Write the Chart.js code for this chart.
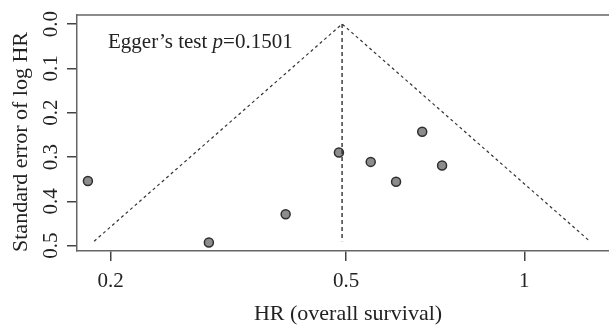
<!DOCTYPE html>
<html>
<head>
<meta charset="utf-8">
<script src="https://cdn.jsdelivr.net/npm/chart.js@4.4.1/dist/chart.umd.min.js"></script>
<style>
	html, body { margin: 0; padding: 0; background: #fff; }
	#wrap { width: 609px; height: 325px; position: relative; }
</style>
</head>
<body>
<div id="wrap"><canvas id="chart"></canvas></div>
<script>
// study estimates
const studyHR = [0.183, 0.293, 0.395, 0.486, 0.550, 0.607, 0.672, 0.726];
const studySE = [0.354, 0.493, 0.429, 0.290, 0.311, 0.356, 0.243, 0.319];

// pooled estimate and 95% pseudo-confidence funnel
const pooledHR = [0.492, 0.492];
const pooledSE = [0, 0.49];
const funnelHR = [0.1875, 0.492, 1.29];
const funnelSE = [0.49, 0, 0.49];

const xTicks = [0.2, 0.5, 1];
const yTicks = [0, 0.1, 0.2, 0.3, 0.4, 0.5];
const xTitle = "HR (overall survival)";
const yTitle = "Standard error of log HR";

const SERIF = "'Liberation Serif', 'DejaVu Serif', serif";
const INK = "#222";

const toPoints = (xs, ys) => xs.map((x, i) => ({ x: x, y: ys[i] }));

const frameAndText = {
	id: "frameAndText",
	afterDraw(chart) {
		const { ctx, chartArea, scales } = chart;
		ctx.save();

		// top edge of the box
		ctx.strokeStyle = "#666";
		ctx.lineWidth = 1.5;
		ctx.beginPath();
		ctx.moveTo(chartArea.left, chartArea.top);
		ctx.lineTo(chartArea.right, chartArea.top);
		ctx.stroke();

		ctx.fillStyle = INK;
		ctx.font = "21px " + SERIF;

		// rotated y tick labels
		ctx.textAlign = "center";
		ctx.textBaseline = "middle";
		for (const v of yTicks) {
			const py = scales.y.getPixelForValue(v);
			ctx.save();
			ctx.translate(50, py);
			ctx.rotate(-Math.PI / 2);
			ctx.fillText(v.toFixed(1), 0, 1);
			ctx.restore();
		}

		// axis titles
		ctx.font = "22px " + SERIF;
		ctx.save();
		ctx.translate(21, 142);
		ctx.rotate(-Math.PI / 2);
		ctx.fillText(yTitle, 0, 0);
		ctx.restore();

		ctx.textBaseline = "alphabetic";
		ctx.fillText(xTitle, 348, 320);

		// Egger's test note
		ctx.font = "21px " + SERIF;
		ctx.textAlign = "left";
		let x = 108;
		const part1 = "Egger\u2019s test ";
		ctx.fillText(part1, x, 48);
		x += ctx.measureText(part1).width;
		ctx.font = "italic 21px " + SERIF;
		ctx.fillText("p", x, 48);
		x += ctx.measureText("p").width;
		ctx.font = "21px " + SERIF;
		ctx.fillText("=0.1501", x, 48);

		ctx.restore();
	},
};

new Chart(document.getElementById("chart"), {
	type: "scatter",
	data: {
		datasets: [
			{
				label: "funnel",
				data: toPoints(funnelHR, funnelSE),
				showLine: true,
				borderColor: "#333",
				borderWidth: 1.2,
				borderDash: [3, 3],
				pointRadius: 0,
				fill: false,
			},
			{
				label: "pooled",
				data: toPoints(pooledHR, pooledSE),
				showLine: true,
				borderColor: "#333",
				borderWidth: 1.4,
				borderDash: [4, 3],
				pointRadius: 0,
				fill: false,
			},
			{
				label: "studies",
				data: toPoints(studyHR, studySE),
				pointRadius: 4.5,
				pointBackgroundColor: "#8c8c8c",
				pointBorderColor: "#2e2e2e",
				pointBorderWidth: 1.5,
			},
		],
	},
	options: {
		responsive: true,
		maintainAspectRatio: false,
		animation: false,
		layout: { autoPadding: false, padding: { top: 15, right: 0, left: 0, bottom: 0 } },
		plugins: {
			legend: { display: false },
			tooltip: { enabled: false },
		},
		scales: {
			x: {
				type: "logarithmic",
				min: 0.1754,
				max: 1.39,
				afterBuildTicks: (s) => { s.ticks = xTicks.map((v) => ({ value: v })); },
				afterFit: (s) => { s.height = 74; },
				border: { display: true, color: "#666", width: 1.5 },
				grid: { drawOnChartArea: false, drawTicks: true, tickLength: 10, color: "#444", lineWidth: 1.5 },
				ticks: {
					color: INK,
					font: { family: SERIF, size: 21 },
					padding: 8,
					maxRotation: 0,
					callback: (v) => String(v),
				},
			},
			y: {
				type: "linear",
				reverse: true,
				min: -0.0203,
				max: 0.512,
				afterBuildTicks: (s) => { s.ticks = yTicks.map((v) => ({ value: v })); },
				afterFit: (s) => { s.width = 77; },
				border: { display: true, color: "#666", width: 1.5 },
				grid: { drawOnChartArea: false, drawTicks: true, tickLength: 10, color: "#444", lineWidth: 1.5 },
				ticks: { display: false },
			},
		},
	},
	plugins: [frameAndText],
});
</script>
</body>
</html>
